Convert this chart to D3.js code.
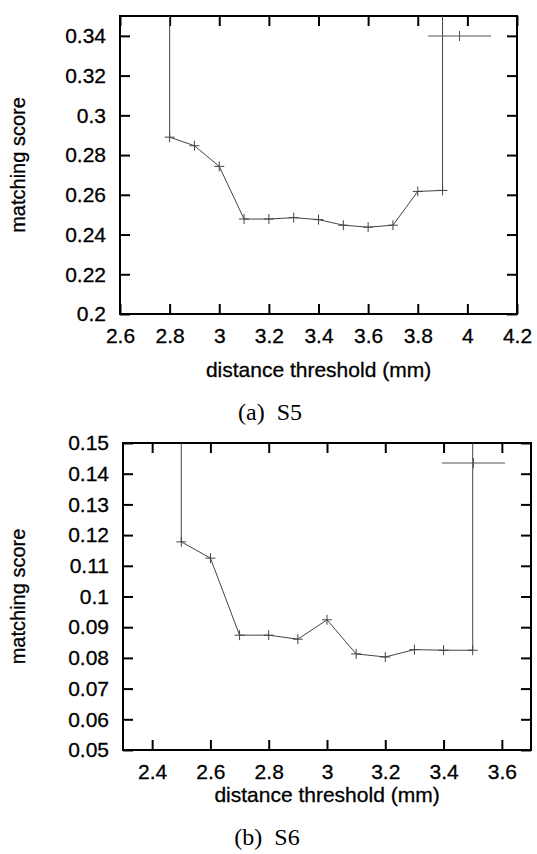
<!DOCTYPE html>
<html>
<head>
<meta charset="utf-8">
<script src="https://cdn.jsdelivr.net/npm/d3@7"></script>
<style>
  body { margin: 0; background: #fff; }
  svg { display: block; }
  .tick text { font-family: "Liberation Sans", Arial, sans-serif; font-size: 21px; fill: #000; stroke: #000; stroke-width: 0.3px; }
  .label { font-family: "Liberation Sans", Arial, sans-serif; font-size: 21px; fill: #000; stroke: #000; stroke-width: 0.3px; }
  .ylabel { font-size: 20px; }
  .caption { font-family: "Liberation Serif", "Times New Roman", serif; font-size: 24px; fill: #000; white-space: pre; }
</style>
</head>
<body>
<div id="container"></div>
<script>
// panel (a) S5 -- values past the top of the range are clipped, like gnuplot does
var s5Threshold = [2.8, 2.8, 2.9, 3.0, 3.1, 3.2, 3.3, 3.4, 3.5, 3.6, 3.7, 3.8, 3.9, 3.9];
var s5Score = [0.6, 0.289, 0.2847, 0.2743, 0.2478, 0.2478, 0.2485, 0.2475, 0.2447, 0.2437, 0.2447, 0.2617, 0.2622, 0.6];
var s5XTicks = [2.6, 2.8, 3.0, 3.2, 3.4, 3.6, 3.8, 4.0, 4.2];
var s5YTicks = [0.2, 0.22, 0.24, 0.26, 0.28, 0.3, 0.32, 0.34];

// panel (b) S6
var s6Threshold = [2.5, 2.5, 2.6, 2.7, 2.8, 2.9, 3.0, 3.1, 3.2, 3.3, 3.4, 3.5, 3.5];
var s6Score = [0.3, 0.1178, 0.1125, 0.0874, 0.0874, 0.0861, 0.0924, 0.0813, 0.0803, 0.0827, 0.0825, 0.0825, 0.3];
var s6XTicks = [2.4, 2.6, 2.8, 3.0, 3.2, 3.4, 3.6];
var s6YTicks = [0.05, 0.06, 0.07, 0.08, 0.09, 0.1, 0.11, 0.12, 0.13, 0.14, 0.15];

var W = 537, H = 854;
var fmt = function(d){ return String(+d.toFixed(2)); };

var svg = d3.select("#container").append("svg")
	.attr("width", W)
	.attr("height", H);

function drawPanel(p){
	var x = d3.scaleLinear().domain(p.xdom).range([p.left, p.right]);
	var y = d3.scaleLinear().domain(p.ydom).range([p.bottom, p.top]);
	var g = svg.append("g");

	g.append("clipPath").attr("id", p.id + "clip")
		.append("rect")
		.attr("x", p.left).attr("y", p.top)
		.attr("width", p.right - p.left).attr("height", p.bottom - p.top);

	// axes, ticks point inward on all four sides
	var ax = [
		[d3.axisBottom(x).tickValues(p.xticks).tickFormat(fmt), "translate(0," + p.bottom + ")"],
		[d3.axisTop(x).tickValues(p.xticks).tickFormat(""), "translate(0," + p.top + ")"],
		[d3.axisLeft(y).tickValues(p.yticks).tickFormat(fmt), "translate(" + p.left + ",0)"],
		[d3.axisRight(y).tickValues(p.yticks).tickFormat(""), "translate(" + p.right + ",0)"]
	];
	ax.forEach(function(a){
		var ga = g.append("g")
			.attr("transform", a[1])
			.call(a[0].tickSize(-10).tickPadding(14));
		ga.select(".domain").remove();
		ga.selectAll("line").attr("stroke", "#000").attr("stroke-width", 2);
	});
	g.selectAll(".tick text").attr("font-family", null).attr("font-size", null);

	g.append("rect")
		.attr("x", p.left).attr("y", p.top)
		.attr("width", p.right - p.left).attr("height", p.bottom - p.top)
		.attr("fill", "none").attr("stroke", "#000").attr("stroke-width", 2);

	var data = p.xs.map(function(v, i){ return {x: v, y: p.ys[i]}; });
	var plot = g.append("g").attr("clip-path", "url(#" + p.id + "clip)");
	var line = d3.line().x(function(d){ return x(d.x); }).y(function(d){ return y(d.y); });
	plot.append("path")
		.attr("d", line(data))
		.attr("fill", "none")
		.attr("stroke", "#444")
		.attr("stroke-width", 1);
	plot.selectAll(".pt").data(data).enter()
		.append("path")
		.attr("class", "pt")
		.attr("d", function(d){
			var cx = x(d.x), cy = y(d.y);
			return "M" + (cx - 5) + "," + cy + "H" + (cx + 5) + "M" + cx + "," + (cy - 5) + "V" + (cy + 5);
		})
		.attr("stroke", "#444")
		.attr("stroke-width", 1);

	// key sample, top right (no title)
	var ky = p.top + 20, kx1 = p.right - 89, kx2 = p.right - 26, kc = (kx1 + kx2) / 2;
	g.append("path")
		.attr("d", "M" + kx1 + "," + ky + "H" + kx2 + "M" + kc + "," + (ky - 5) + "V" + (ky + 5))
		.attr("stroke", "#555").attr("stroke-width", 1).attr("fill", "none");

	g.append("text").attr("class", "label")
		.attr("x", (p.left + p.right) / 2).attr("y", p.xtitleY)
		.attr("text-anchor", "middle")
		.text("distance threshold (mm)");
	g.append("text").attr("class", "label ylabel")
		.attr("transform", "translate(25," + (p.top + p.bottom) / 2 + ") rotate(-90)")
		.attr("text-anchor", "middle")
		.text("matching score");
	g.append("text").attr("class", "caption")
		.attr("x", p.capX).attr("y", p.capY)
		.attr("text-anchor", "middle")
		.text(p.caption);
}

drawPanel({id: "s5", xs: s5Threshold, ys: s5Score, xticks: s5XTicks, yticks: s5YTicks,
	xdom: [2.6, 4.2], ydom: [0.2, 0.35],
	left: 120, right: 517, top: 16, bottom: 314,
	xtitleY: 377, capX: 270, capY: 420, caption: "(a)  S5"});

drawPanel({id: "s6", xs: s6Threshold, ys: s6Score, xticks: s6XTicks, yticks: s6YTicks,
	xdom: [2.3, 3.7], ydom: [0.05, 0.15],
	left: 123, right: 531, top: 443, bottom: 750,
	xtitleY: 802, capX: 267, capY: 845, caption: "(b)  S6"});
</script>
</body>
</html>
